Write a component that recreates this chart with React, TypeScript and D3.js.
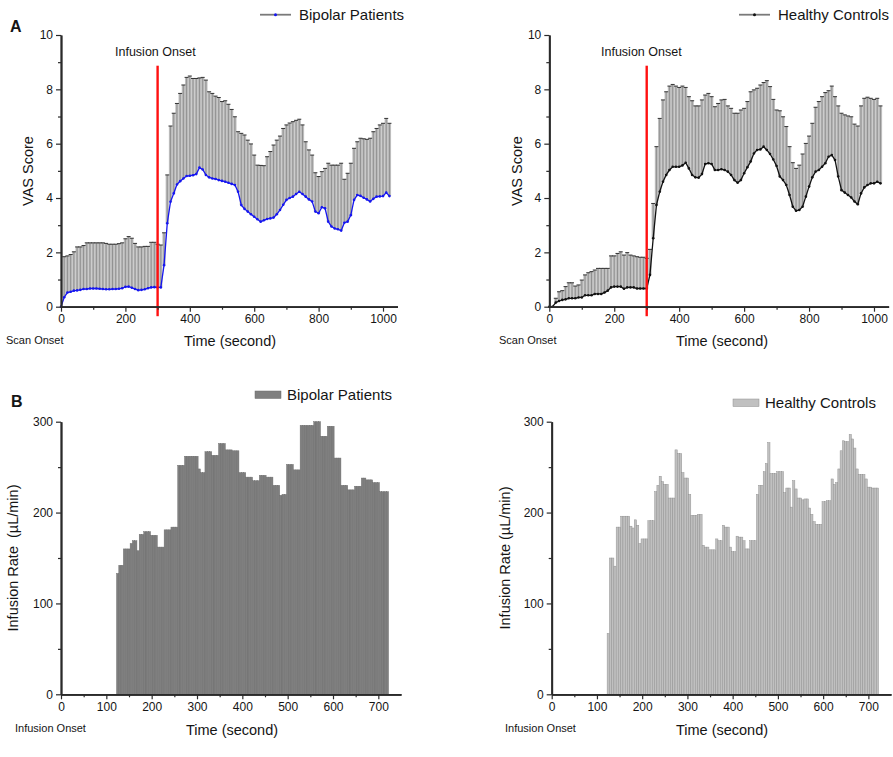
import React, { useEffect, useRef } from 'react';
import * as d3 from 'd3';

// VAS time course, sampled every 10 s from scan onset
const vasTime = [
  0, 10, 20, 30, 40, 50, 60, 70, 80, 90, 100, 110, 120, 130, 140, 150, 160, 170, 180, 190,
  200, 210, 220, 230, 240, 250, 260, 270, 280, 290, 300, 310, 320, 330, 340, 350, 360, 370, 380, 390,
  400, 410, 420, 430, 440, 450, 460, 470, 480, 490, 500, 510, 520, 530, 540, 550, 560, 570, 580, 590,
  600, 610, 620, 630, 640, 650, 660, 670, 680, 690, 700, 710, 720, 730, 740, 750, 760, 770, 780, 790,
  800, 810, 820, 830, 840, 850, 860, 870, 880, 890, 900, 910, 920, 930, 940, 950, 960, 970, 980, 990,
  1000, 1010, 1020,
];

const bipolarMean = [
  0, 0.35, 0.52, 0.55, 0.59, 0.6, 0.62, 0.65, 0.65, 0.67, 0.67, 0.67, 0.66, 0.65, 0.64, 0.64, 0.65, 0.65, 0.66, 0.68,
  0.73, 0.74, 0.7, 0.65, 0.61, 0.62, 0.64, 0.68, 0.71, 0.72, 0.71, 0.71, 1.53, 3.07, 3.86, 4.17, 4.5, 4.62, 4.72, 4.81,
  4.82, 4.84, 4.88, 5.12, 5.05, 4.85, 4.76, 4.72, 4.7, 4.66, 4.63, 4.6, 4.56, 4.52, 4.48, 4.23, 3.74, 3.6, 3.5, 3.4,
  3.31, 3.22, 3.13, 3.18, 3.23, 3.25, 3.28, 3.4, 3.56, 3.75, 3.93, 4.0, 4.05, 4.15, 4.23, 4.15, 4.05, 3.95, 3.87, 3.5,
  3.44, 3.66, 3.62, 3.13, 2.95, 2.88, 2.85, 2.8, 3.09, 3.13, 3.37, 3.93, 4.11, 4.08, 4.01, 3.95, 3.87, 3.97, 4.05, 4.06,
  4.07, 4.2, 4.07,
];

const bipolarUpper = [
  0, 1.84, 1.87, 1.92, 2.02, 2.2, 2.2, 2.25, 2.35, 2.35, 2.35, 2.35, 2.35, 2.35, 2.33, 2.3, 2.3, 2.3, 2.32, 2.35,
  2.5, 2.58, 2.52, 2.33, 2.2, 2.2, 2.22, 2.22, 2.37, 2.37, 2.3, 2.27, 2.72, 4.85, 6.65, 7.12, 7.48, 7.85, 8.16, 8.44,
  8.49, 8.4, 8.4, 8.42, 8.44, 8.34, 7.91, 7.85, 7.75, 7.7, 7.55, 7.58, 7.45, 7.26, 6.99, 6.44, 6.38, 6.32, 6.13, 5.99,
  5.58, 5.21, 5.2, 5.19, 5.52, 5.71, 5.95, 6.13, 6.28, 6.56, 6.69, 6.76, 6.81, 6.86, 6.9, 6.69, 6.07, 5.77, 5.58, 4.93,
  4.79, 4.97, 5.09, 5.28, 5.21, 5.21, 5.21, 5.28, 4.69, 4.91, 5.28, 5.83, 6.07, 6.2, 6.18, 6.16, 6.2, 6.44, 6.56, 6.69,
  6.75, 6.93, 6.75,
];

const controlMean = [
  0, 0, 0.15, 0.21, 0.25, 0.27, 0.31, 0.31, 0.31, 0.34, 0.34, 0.42, 0.42, 0.42, 0.47, 0.47, 0.47, 0.52, 0.59, 0.71,
  0.74, 0.74, 0.74, 0.66, 0.71, 0.71, 0.71, 0.67, 0.67, 0.67, 0.67, 1.17, 2.52, 3.74, 4.23, 4.6, 4.85, 5.03, 5.15, 5.15,
  5.15, 5.2, 5.3, 5.09, 4.85, 4.76, 4.75, 4.88, 5.25, 5.28, 5.25, 5.03, 5.03, 5.06, 5.03, 4.97, 4.85, 4.66, 4.56, 4.66,
  4.91, 5.13, 5.34, 5.64, 5.77, 5.79, 5.89, 5.77, 5.62, 5.42, 5.18, 4.79, 4.66, 4.48, 4.11, 3.68, 3.53, 3.56, 3.68, 4.05,
  4.42, 4.76, 4.97, 5.03, 5.15, 5.28, 5.52, 5.58, 5.4, 4.79, 4.29, 4.2, 4.11, 4.02, 3.87, 3.77, 4.17, 4.39, 4.48, 4.54,
  4.54, 4.6, 4.54,
];

const controlUpper = [
  0, 0, 0.31, 0.55, 0.59, 0.74, 0.88, 0.88, 0.76, 0.8, 0.98, 1.17, 1.25, 1.29, 1.35, 1.41, 1.41, 1.41, 1.41, 1.87,
  1.87, 1.96, 2.02, 1.9, 1.99, 1.9, 1.87, 1.84, 1.82, 1.82, 1.78, 2.11, 3.8, 5.89, 6.93, 7.61, 7.91, 8.12, 8.18, 8.12,
  8.07, 8.12, 8.07, 7.73, 7.58, 7.39, 7.39, 7.61, 7.79, 7.85, 7.73, 7.36, 7.48, 7.61, 7.63, 7.39, 7.3, 7.12, 7.12, 7.24,
  7.3, 7.55, 7.91, 7.98, 8.04, 8.16, 8.25, 8.32, 8.1, 7.63, 7.24, 7.21, 6.99, 6.63, 5.89, 5.3, 5.09, 5.21, 5.62, 6.01,
  6.28, 6.75, 7.34, 7.55, 7.73, 7.88, 7.95, 8.12, 7.73, 7.39, 7.12, 7.06, 7.02, 6.99, 6.72, 6.65, 7.39, 7.67, 7.71, 7.67,
  7.63, 7.67, 7.39,
];

// infusion rate, 5 s bins (bin centre, seconds after infusion onset)
const rateTime = [
  125, 130, 135, 140, 145, 150, 155, 160, 165, 170, 175, 180, 185, 190, 195, 200, 205, 210, 215, 220,
  225, 230, 235, 240, 245, 250, 255, 260, 265, 270, 275, 280, 285, 290, 295, 300, 305, 310, 315, 320,
  325, 330, 335, 340, 345, 350, 355, 360, 365, 370, 375, 380, 385, 390, 395, 400, 405, 410, 415, 420,
  425, 430, 435, 440, 445, 450, 455, 460, 465, 470, 475, 480, 485, 490, 495, 500, 505, 510, 515, 520,
  525, 530, 535, 540, 545, 550, 555, 560, 565, 570, 575, 580, 585, 590, 595, 600, 605, 610, 615, 620,
  625, 630, 635, 640, 645, 650, 655, 660, 665, 670, 675, 680, 685, 690, 695, 700, 705, 710, 715, 720,
];
const rateBinWidth = 5;

const bipolarRate = [
  133, 142, 142, 160, 160, 160, 166, 169, 169, 158, 176, 176, 179, 179, 179, 175, 175, 175, 162, 162,
  162, 181, 181, 181, 184, 184, 184, 252, 252, 252, 262, 262, 262, 262, 262, 262, 248, 244, 244, 267,
  267, 267, 263, 263, 263, 276, 276, 276, 269, 269, 269, 268, 268, 268, 244, 244, 244, 239, 239, 239,
  235, 235, 235, 241, 241, 241, 239, 239, 239, 230, 230, 230, 219, 220, 220, 253, 253, 253, 247, 247,
  247, 296, 296, 296, 296, 296, 296, 300, 300, 300, 284, 284, 284, 295, 295, 295, 260, 260, 260, 230,
  230, 230, 225, 225, 225, 229, 229, 229, 238, 238, 236, 236, 236, 233, 233, 233, 223, 223, 223, 223,
];

const controlRate = [
  67, 150, 150, 141, 184, 184, 196, 196, 196, 196, 185, 183, 192, 186, 166, 171, 171, 171, 191, 191,
  191, 223, 230, 240, 234, 231, 231, 216, 216, 216, 269, 265, 265, 244, 238, 238, 220, 197, 197, 197,
  198, 198, 164, 162, 162, 159, 159, 159, 171, 169, 169, 186, 184, 184, 162, 157, 157, 174, 173, 173,
  169, 160, 160, 169, 169, 169, 220, 230, 230, 245, 254, 277, 243, 243, 243, 245, 245, 245, 222, 227,
  227, 206, 235, 226, 216, 216, 214, 215, 215, 205, 198, 190, 187, 187, 187, 212, 212, 213, 213, 237,
  231, 233, 248, 268, 279, 278, 278, 286, 281, 271, 248, 242, 242, 242, 237, 228, 228, 227, 227, 227,
];

const vasXTicks = [0, 200, 400, 600, 800, 1000];
const vasXMinor = [100, 300, 500, 700, 900];
const vasYTicks = [0, 2, 4, 6, 8, 10];
const vasYMinor = [1, 3, 5, 7, 9];
const rateXTicks = [0, 100, 200, 300, 400, 500, 600, 700];
const rateXMinor = [50, 150, 250, 350, 450, 550, 650];
const rateYTicks = [0, 100, 200, 300];
const rateYMinor = [50, 150, 250];

const infusionOnset = 300;
const FONT = 'Arial, "Liberation Sans", sans-serif';
const INK = '#151515';

type Sel = d3.Selection<SVGSVGElement, unknown, null, undefined>;

function styleAxis(g: d3.Selection<SVGGElement, unknown, null, undefined>) {
  g.select('.domain').attr('stroke', '#2a2a2a').attr('stroke-width', 1.8);
  g.selectAll('.tick line').attr('stroke', '#2a2a2a').attr('stroke-width', 1.2);
  g.selectAll('.tick text')
    .attr('font-family', FONT)
    .attr('font-size', 12)
    .attr('fill', INK);
}

function drawAxes(
  svg: Sel,
  x: d3.ScaleLinear<number, number>,
  y: d3.ScaleLinear<number, number>,
  xTicks: number[],
  xMinor: number[],
  yTicks: number[],
  yMinor: number[]
) {
  const y0 = y.range()[0];
  const x0 = x.range()[0];
  svg.append('g')
    .attr('transform', `translate(0,${y0})`)
    .call(d3.axisBottom(x).tickValues(xMinor).tickSize(3).tickSizeOuter(0).tickFormat(() => ''))
    .call(styleAxis);
  svg.append('g')
    .attr('transform', `translate(0,${y0})`)
    .call(d3.axisBottom(x).tickValues(xTicks).tickSize(5).tickPadding(3).tickSizeOuter(0).tickFormat(d3.format('d')))
    .call(styleAxis);
  svg.append('g')
    .attr('transform', `translate(${x0},0)`)
    .call(d3.axisLeft(y).tickValues(yMinor).tickSize(3).tickSizeOuter(0).tickFormat(() => ''))
    .call(styleAxis);
  svg.append('g')
    .attr('transform', `translate(${x0},0)`)
    .call(d3.axisLeft(y).tickValues(yTicks).tickSize(5).tickPadding(3).tickSizeOuter(0).tickFormat(d3.format('d')))
    .call(styleAxis);
}

function addText(svg: Sel, txt: string, x: number, y: number, size: number, opts: { anchor?: string; rotate?: boolean; weight?: string } = {}) {
  const t = svg.append('text')
    .attr('font-family', FONT)
    .attr('font-size', size)
    .attr('fill', INK)
    .attr('text-anchor', opts.anchor || 'start')
    .style('white-space', 'pre')
    .text(txt);
  if (opts.weight) t.attr('font-weight', opts.weight);
  if (opts.rotate) t.attr('transform', `translate(${x},${y}) rotate(-90)`);
  else t.attr('x', x).attr('y', y);
  return t;
}

interface VasPanel {
  left: number;
  right: number;
  mean: number[];
  upper: number[];
  color: string;
  legend: string;
  legendX: number;
  yLabelX: number;
  scanX: number;
  timeX: number;
  onsetTextX: number;
}

function drawVas(svg: Sel, p: VasPanel) {
  const x = d3.scaleLinear().domain([0, 1045]).range([p.left, p.right]);
  const y = d3.scaleLinear().domain([0, 10]).range([306.7, 35]);
  const step = x(10) - x(0);
  const pts = vasTime.map((t, i) => ({ t, m: p.mean[i], u: p.upper[i] }));
  const bars = pts.filter(d => d.u > d.m);

  const g = svg.append('g');
  // error bar body
  g.selectAll('rect.eb')
    .data(bars)
    .enter().append('rect')
    .attr('x', d => x(d.t) - step / 2)
    .attr('width', step)
    .attr('y', d => y(d.u))
    .attr('height', d => y(d.m) - y(d.u))
    .attr('fill', '#bdbdbd');
  g.selectAll('line.stem')
    .data(bars)
    .enter().append('line')
    .attr('x1', d => x(d.t)).attr('x2', d => x(d.t))
    .attr('y1', d => y(d.u)).attr('y2', d => y(d.m))
    .attr('stroke', '#8c8c8c').attr('stroke-width', 0.9);
  g.selectAll('line.cap')
    .data(bars)
    .enter().append('line')
    .attr('x1', d => x(d.t) - 2).attr('x2', d => x(d.t) + 2)
    .attr('y1', d => y(d.u)).attr('y2', d => y(d.u))
    .attr('stroke', '#333').attr('stroke-width', 1);

  const line = d3.line<{ t: number; m: number }>().x(d => x(d.t)).y(d => y(d.m));
  g.append('path').datum(pts).attr('d', line).attr('fill', 'none').attr('stroke', p.color).attr('stroke-width', 1.3);
  g.selectAll('circle.pt')
    .data(pts)
    .enter().append('circle')
    .attr('cx', d => x(d.t)).attr('cy', d => y(d.m)).attr('r', 1.3)
    .attr('fill', p.color);

  // infusion onset marker
  svg.append('line')
    .attr('x1', x(infusionOnset)).attr('x2', x(infusionOnset))
    .attr('y1', y(8.87)).attr('y2', y(-0.35))
    .attr('stroke', '#ff1010').attr('stroke-width', 2.4);
  addText(svg, 'Infusion Onset', p.onsetTextX, 56, 12.5);

  drawAxes(svg, x, y, vasXTicks, vasXMinor, vasYTicks, vasYMinor);

  addText(svg, 'VAS Score', p.yLabelX, 171, 14.5, { anchor: 'middle', rotate: true });
  addText(svg, 'Time (second)', p.timeX, 346, 14.5, { anchor: 'middle' });
  addText(svg, 'Scan Onset', p.scanX, 344, 11);

  // legend
  const ly = 14.7;
  svg.append('line')
    .attr('x1', p.legendX).attr('x2', p.legendX + 31)
    .attr('y1', ly).attr('y2', ly)
    .attr('stroke', '#7a7a7a').attr('stroke-width', 1.8);
  svg.append('circle').attr('cx', p.legendX + 15.5).attr('cy', ly).attr('r', 1.5).attr('fill', p.color);
  addText(svg, p.legend, p.legendX + 39, ly + 5.3, 15);
}

interface RatePanel {
  left: number;
  right: number;
  values: number[];
  fill: string;
  stroke: string;
  legend: string;
  legendX: number;
  legendY: number;
  yLabel: string;
  yLabelX: number;
  onsetX: number;
  timeX: number;
}

function drawRate(svg: Sel, p: RatePanel) {
  const x = d3.scaleLinear().domain([0, 750]).range([p.left, p.right]);
  const y = d3.scaleLinear().domain([0, 300]).range([694.3, 421.7]);
  const data = rateTime.map((t, i) => ({ t, v: p.values[i] }));

  svg.append('g').selectAll('rect')
    .data(data)
    .enter().append('rect')
    .attr('x', d => x(d.t - rateBinWidth / 2))
    .attr('width', d => x(d.t + rateBinWidth / 2) - x(d.t - rateBinWidth / 2))
    .attr('y', d => y(d.v))
    .attr('height', d => y(0) - y(d.v))
    .attr('fill', p.fill)
    .attr('stroke', p.stroke)
    .attr('stroke-width', 0.45);

  drawAxes(svg, x, y, rateXTicks, rateXMinor, rateYTicks, rateYMinor);

  addText(svg, p.yLabel, p.yLabelX, 558, 14.5, { anchor: 'middle', rotate: true });
  addText(svg, 'Time (second)', p.timeX, 735, 14.5, { anchor: 'middle' });
  addText(svg, 'Infusion Onset', p.onsetX, 732, 11);

  svg.append('rect')
    .attr('x', p.legendX).attr('y', p.legendY - 4)
    .attr('width', 26).attr('height', 7.5)
    .attr('fill', p.fill).attr('stroke', p.stroke).attr('stroke-width', 0.5);
  addText(svg, p.legend, p.legendX + 32, p.legendY + 5.3, 15);
}

const App: React.FC = () => {
  const svgRef = useRef<SVGSVGElement>(null);

  useEffect(() => {
    if (!svgRef.current) return;
    const svg = d3.select(svgRef.current) as Sel;
    svg.selectAll('*').remove();

    drawVas(svg, {
      left: 61, right: 397.5, mean: bipolarMean, upper: bipolarUpper, color: '#1515f0',
      legend: 'Bipolar Patients', legendX: 260, yLabelX: 33, scanX: 6, timeX: 230, onsetTextX: 115,
    });
    drawVas(svg, {
      left: 549.3, right: 888.6, mean: controlMean, upper: controlUpper, color: '#111',
      legend: 'Healthy Controls', legendX: 739, yLabelX: 522, scanX: 499, timeX: 722, onsetTextX: 601,
    });
    drawRate(svg, {
      left: 61, right: 401, values: bipolarRate, fill: '#7f7f7f', stroke: '#6c6c6c',
      legend: 'Bipolar Patients', legendX: 255, legendY: 395, yLabel: 'Infusion Rate  (µL/min)', yLabelX: 18,
      onsetX: 15, timeX: 232,
    });
    drawRate(svg, {
      left: 551.7, right: 891, values: controlRate, fill: '#c0c0c0', stroke: '#8e8e8e',
      legend: 'Healthy Controls', legendX: 733, legendY: 403, yLabel: 'Infusion Rate (µL/min)', yLabelX: 510,
      onsetX: 505, timeX: 722,
    });

    addText(svg, 'A', 10, 32, 16, { weight: 'bold' });
    addText(svg, 'B', 11, 407, 16, { weight: 'bold' });
  }, []);

  return (
    <div style={{ position: 'absolute', left: 0, top: 0 }}>
      <svg ref={svgRef} width={893} height={757} style={{ display: 'block', background: '#fff' }}></svg>
    </div>
  );
};

export default App;
